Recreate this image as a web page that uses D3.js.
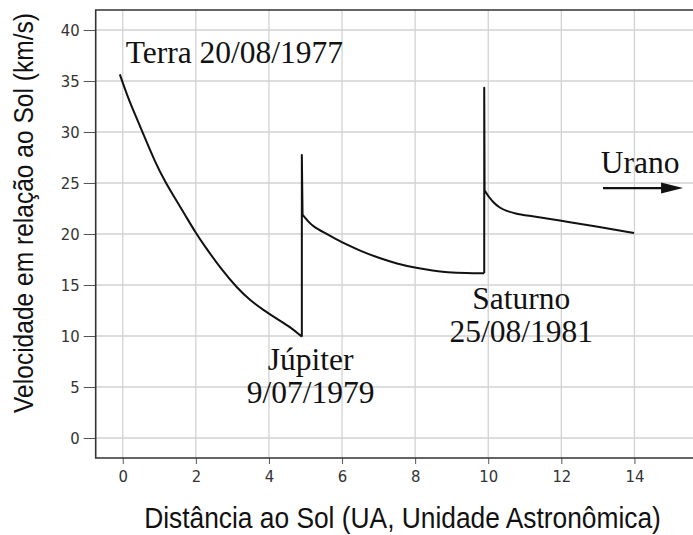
<!DOCTYPE html>
<html>
<head>
<meta charset="utf-8">
<script src="https://cdn.jsdelivr.net/npm/d3@7"></script>
<style>
body{margin:0;background:white}
</style>
</head>
<body>
<div id="chart"></div>
<script>

// -----------------------------
// DATA
// -----------------------------

// Earth -> Jupiter, flyby spike, Jupiter -> Saturn, flyby spike, Saturn -> 14 UA
const distance = [-0.08,0.15,0.34,0.61,0.88,1.16,1.43,1.70,1.98,2.25,2.75,3.12,3.48,3.85,4.21,4.58,4.9,
4.9,4.92,5.08,5.21,5.5,5.81,6.13,6.5,7.04,7.5,7.99,8.5,8.86,9.4,9.89,
9.89,9.9,10.0,10.14,10.3,10.5,10.75,11.0,12.0,13.0,13.99]
const velocity = [35.65,33.3,31.7,29.4,27.1,25.1,23.5,21.9,20.2,18.75,16.3,14.75,13.5,12.55,11.7,10.9,9.93,
27.75,21.9,21.2,20.75,20.15,19.55,18.95,18.35,17.6,17.1,16.7,16.4,16.25,16.15,16.15,
34.35,24.3,23.7,23.1,22.6,22.25,22.0,21.85,21.3,20.7,20.1]

const xTicks = [0,2,4,6,8,10,12,14]
const yTicks = [0,5,10,15,20,25,30,35,40]

const notes = [
{x:0.08,y:36.76,lines:["Terra 20/08/1977"],anchor:"start"},
{x:13.08,y:26.0,lines:["Urano"],anchor:"start"},
{x:5.14,y:6.67,lines:["Júpiter","9/07/1979"],anchor:"middle"},
{x:10.9,y:12.65,lines:["Saturno","25/08/1981"],anchor:"middle"}
]

const arrow = {x1:13.14,x2:15.33,y:24.5}

const xLabel = "Distância ao Sol (UA, Unidade Astronômica)"
const yLabel = "Velocidade em relação ao Sol (km/s)"


// -----------------------------
// CHART
// -----------------------------

const width = 693
const height = 535
const margin = {top:10,left:95.7,bottom:77}

const svg = d3.select("#chart")
.append("svg")
.attr("width",width)
.attr("height",height)

const x = d3.scaleLinear()
.domain([-0.74,15.7])
.range([margin.left,margin.left+16.44*36.55])

const y = d3.scaleLinear()
.domain([-1.96,41.96])
.range([height-margin.bottom,margin.top])


// GRID

svg.append("g")
.selectAll("line")
.data(xTicks)
.enter()
.append("line")
.attr("x1",d=>x(d))
.attr("x2",d=>x(d))
.attr("y1",y.range()[0])
.attr("y2",y.range()[1])
.attr("stroke","#d2d2d2")
.attr("stroke-width",1.3)

svg.append("g")
.selectAll("line")
.data(yTicks)
.enter()
.append("line")
.attr("x1",x.range()[0])
.attr("x2",x.range()[1])
.attr("y1",d=>y(d))
.attr("y2",d=>y(d))
.attr("stroke","#d2d2d2")
.attr("stroke-width",1.3)


// AXES

svg.append("g")
.attr("transform",`translate(0,${y.range()[0]})`)
.call(d3.axisBottom(x).tickValues(xTicks).tickSize(6).tickPadding(6).tickSizeOuter(0))

svg.append("g")
.attr("transform",`translate(${margin.left},0)`)
.call(d3.axisLeft(y).tickValues(yTicks).tickSize(12).tickPadding(4).tickSizeOuter(0))

svg.selectAll(".tick text")
.attr("font-family","'DejaVu Sans Condensed','DejaVu Sans',sans-serif")
.attr("font-stretch","condensed")
.attr("font-size",16.5)
.attr("fill","#333")

svg.selectAll(".tick line")
.attr("stroke","#555")

svg.selectAll(".domain").remove()

// frame (top, left, bottom)
svg.append("path")
.attr("d",`M${x.range()[1]},${y.range()[1]}H${x.range()[0]}V${y.range()[0]}H${x.range()[1]}`)
.attr("fill","none")
.attr("stroke","#333")
.attr("stroke-width",1.6)


// LINE
// split where the path jumps vertically (flybys) so the arcs can be smooth

const pts = distance.map((d,i)=>[d,velocity[i]])

const segments = []
let cur = [pts[0]]
for(let i=1;i<pts.length;i++){
const jump = Math.abs(pts[i][0]-pts[i-1][0])<0.05
const prevJump = cur.length>1 && Math.abs(cur[cur.length-1][0]-cur[cur.length-2][0])<0.05
if(jump!==prevJump && cur.length>1){
segments.push({pts:cur,jump:prevJump})
cur=[pts[i-1]]
}
cur.push(pts[i])
}
segments.push({pts:cur,jump:false})

const smooth = d3.line()
.x(d=>x(d[0]))
.y(d=>y(d[1]))
.curve(d3.curveBasis)

const straight = d3.line()
.x(d=>x(d[0]))
.y(d=>y(d[1]))

svg.append("path")
.attr("fill","none")
.attr("stroke","#111")
.attr("stroke-width",2)
.attr("stroke-linejoin","round")
.attr("d",segments.map(s=>(s.jump?straight:smooth)(s.pts)).join(""))


// ANNOTATIONS

notes.forEach(n=>{
const t = svg.append("text")
.attr("font-family","'Liberation Serif','Times New Roman',serif")
.attr("font-size",31.5)
.attr("fill","#111")
.attr("text-anchor",n.anchor)
n.lines.forEach((l,i)=>{
t.append("tspan")
.attr("x",x(n.x))
.attr("y",y(n.y)+i*33.5)
.text(l)
})
})

svg.append("line")
.attr("x1",x(arrow.x1))
.attr("x2",x(arrow.x2)-20)
.attr("y1",y(arrow.y))
.attr("y2",y(arrow.y))
.attr("stroke","#111")
.attr("stroke-width",2.2)

svg.append("path")
.attr("d",`M${x(arrow.x2)},${y(arrow.y)}L${x(arrow.x2)-22},${y(arrow.y)-5.5}L${x(arrow.x2)-22},${y(arrow.y)+5.5}Z`)
.attr("fill","#111")


// LABELS (narrow sans, squeezed to the reference width)

const xl = svg.append("text")
.attr("text-anchor","middle")
.attr("font-family","'Liberation Sans',Arial,sans-serif")
.attr("font-size",29)
.attr("fill","#111")
.text(xLabel)
const xs = 517/xl.node().getComputedTextLength()
xl.attr("transform",`translate(402.5,528) scale(${xs},1)`)

const yl = svg.append("text")
.attr("text-anchor","middle")
.attr("font-family","'Liberation Sans',Arial,sans-serif")
.attr("font-size",27)
.attr("fill","#111")
.text(yLabel)
const ys = 400/yl.node().getComputedTextLength()
yl.attr("transform",`translate(33,213) rotate(-90) scale(${ys},1)`)

</script>
</body>
</html>
